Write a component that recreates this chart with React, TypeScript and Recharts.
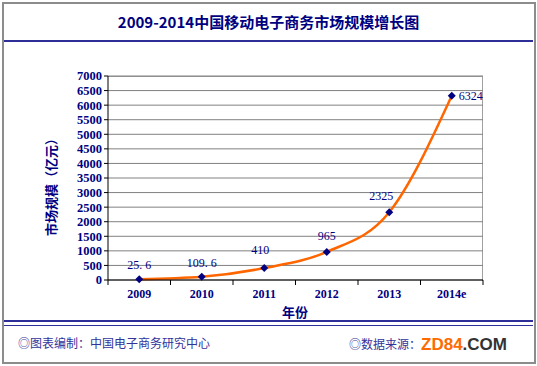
import React from 'react';
import { LineChart, Line, XAxis, YAxis, CartesianGrid, LabelList } from 'recharts';

const years = ['2009', '2010', '2011', '2012', '2013', '2014e'];
const marketSize = [25.6, 109.6, 410, 965, 2325, 6324];
const yTicks = [0, 500, 1000, 1500, 2000, 2500, 3000, 3500, 4000, 4500, 5000, 5500, 6000, 6500, 7000];
// category centres plus the band edges between them (edges get a small tick mark)
const xTicks = [-0.5, 0, 0.5, 1, 1.5, 2, 2.5, 3, 3.5, 4, 4.5, 5, 5.5];

const data = years.map((y, i) => ({ idx: i, year: y, value: marketSize[i] }));

const navy = '#000080';
const serif = '"Liberation Serif", "DejaVu Serif", serif';
const cjk = '"Noto Sans CJK SC", sans-serif';

// label placement per point, roughly like the original
const renderLabel = (props: any) => {
    const { x, y, value, index } = props;
    let dx = 0;
    let dy = -10;
    let anchor: any = 'middle';
    if (index === 2) { dx = -4; dy = -14; }
    if (index === 3) { dx = 0; dy = -12; }
    if (index === 4) { dx = -8; dy = -12; }
    if (index === 5) { dx = 7; dy = 4; anchor = 'start'; }
    return (
        <text x={x + dx} y={y + dy} textAnchor={anchor} fill={navy} fontSize={12} fontFamily={serif}>
            {String(value).replace('.', '. ')}
        </text>
    );
};

const XTick = (props: any) => {
    const { x, y, payload } = props;
    const v = payload.value;
    if (Number.isInteger(v)) {
        return (
            <text x={x} y={y + 18} textAnchor="middle" fill={navy} fontSize={12} fontWeight="bold" fontFamily={serif}>
                {years[v]}
            </text>
        );
    }
    return <line x1={x} y1={y} x2={x} y2={y + 5} stroke="#000" />;
};

const Diamond = (props: any) => {
    const { cx, cy } = props;
    return <path d={`M${cx},${cy - 4}L${cx + 4},${cy}L${cx},${cy + 4}L${cx - 4},${cy}Z`} fill={navy} />;
};

export default function App() {
    return (
        <div style={{ position: 'absolute', left: 0, top: 0, width: 537, height: 366, background: '#fff' }}>
            {/* outer frame */}
            <div style={{ position: 'absolute', left: 2, top: 2, width: 530, height: 358, border: '2px solid #8c8c8c' }} />
            <div style={{ position: 'absolute', left: 4, top: 40, width: 529, height: 2, background: '#2e2e99' }} />
            <div style={{ position: 'absolute', left: 4, top: 320, width: 529, height: 2, background: '#2e2e99' }} />
            <div style={{ position: 'absolute', left: 4, top: 325, width: 529, height: 1, background: '#2e2e99' }} />
            {/* plot area border */}
            <div style={{ position: 'absolute', left: 108, top: 76, width: 374, height: 204, borderTop: '1px solid #a0a0a0', borderRight: '1px solid #a0a0a0' }} />
            <div style={{ position: 'absolute', left: 0, top: 11, width: 537, textAlign: 'center', color: navy, fontWeight: 'bold', fontSize: 15, fontFamily: cjk }}>
                2009-2014中国移动电子商务市场规模增长图
            </div>
            <div style={{ position: 'absolute', left: 18, top: 334, color: '#33339a', fontSize: 12, fontFamily: cjk }}>
                ◎图表编制：中国电子商务研究中心
            </div>
            <div style={{ position: 'absolute', left: 349, top: 334, color: '#33339a', fontSize: 12, fontFamily: cjk }}>
                ◎数据来源：
                <span style={{ fontFamily: '"Liberation Sans", sans-serif', fontWeight: 'bold', fontSize: 17, color: '#ff6a00', position: 'relative', top: 1 }}>ZD84</span>
                <span style={{ fontFamily: '"Liberation Sans", sans-serif', fontWeight: 'bold', fontSize: 17, color: '#333', position: 'relative', top: 1 }}>.COM</span>
            </div>
            <div style={{ position: 'absolute', left: 50, top: 184, transform: 'translate(-50%, -50%) rotate(-90deg)', whiteSpace: 'nowrap', color: navy, fontWeight: 'bold', fontSize: 13, fontFamily: cjk }}>
                市场规模（亿元）
            </div>
            <div style={{ position: 'absolute', left: 295, top: 302, transform: 'translateX(-50%)', color: navy, fontWeight: 'bold', fontSize: 13, fontFamily: cjk }}>
                年份
            </div>
            <div style={{ position: 'absolute', left: 0, top: 0 }}>
                <LineChart width={537} height={366} data={data} margin={{ top: 76, right: 54, bottom: 56, left: 58 }}>
                    <CartesianGrid horizontal vertical={false} stroke="#808080" />
                    <XAxis
                        dataKey="idx"
                        type="number"
                        domain={[-0.5, 5.5]}
                        ticks={xTicks}
                        interval={0}
                        height={30}
                        tickSize={0}
                        tickMargin={0}
                        tickLine={false}
                        axisLine={{ stroke: '#000' }}
                        tick={<XTick />}
                    />
                    <YAxis
                        domain={[0, 7000]}
                        ticks={yTicks}
                        width={50}
                        axisLine={{ stroke: '#000' }}
                        tickLine={{ stroke: '#000' }}
                        tickSize={4}
                        interval={0}
                        tick={{ fill: navy, fontSize: 12.5, fontWeight: 'bold', fontFamily: serif }}
                    />
                    <Line
                        dataKey="value"
                        type="monotone"
                        stroke="#ff6600"
                        strokeWidth={2.5}
                        dot={<Diamond />}
                        isAnimationActive={false}
                    >
                        <LabelList dataKey="value" content={renderLabel} />
                    </Line>
                </LineChart>
            </div>
        </div>
    );
}
